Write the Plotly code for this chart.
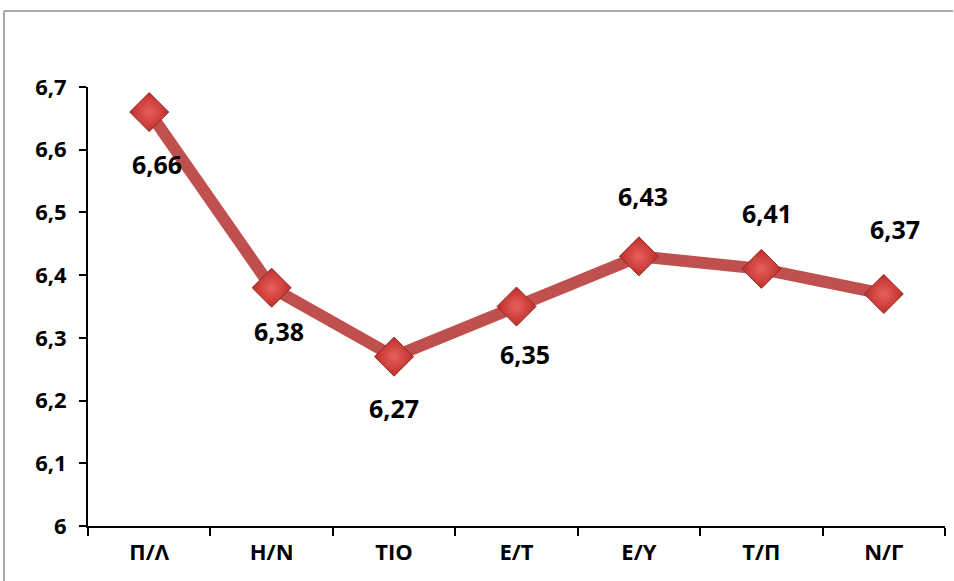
import plotly.graph_objects as go

categories = ["Π/Λ", "Η/Ν", "ΤΙΟ", "Ε/Τ", "Ε/Υ", "Τ/Π", "Ν/Γ"]
values = [6.66, 6.38, 6.27, 6.35, 6.43, 6.41, 6.37]
label_dx = [8, 7, 0, 8, 4, 6, 11]
label_dy = [-52, -43, -51, -47, 60, 56, 65]

W, H = 954, 581
ml, mr, mt, mb = 88, 9, 87, 55
pw, ph = W - ml - mr, H - mt - mb

fig = go.Figure()
fig.add_trace(go.Scatter(
    x=categories, y=values, mode="lines+markers",
    line=dict(color="#C0504D", width=12),
    marker=dict(symbol="diamond", size=30, color="#BE2E2A",
                gradient=dict(type="radial", color="#E8605A"),
                line=dict(color="#8E2A27", width=1)),
    hoverinfo="skip", showlegend=False,
))

for c, v, dx, dy in zip(categories, values, label_dx, label_dy):
    fig.add_annotation(x=c, y=v, text=f"{v:.2f}".replace(".", ","), showarrow=False,
                       xshift=dx, yshift=dy,
                       font=dict(family="Open Sans", size=25, color="black", weight="bold"))

# outer chart border: only top and left edges are visible in the source image
bx0 = (4 - ml) / pw
by1 = (H - mb - 11) / ph
fig.add_shape(type="line", xref="paper", yref="paper", x0=bx0, x1=(W - 1 - ml) / pw,
              y0=by1, y1=by1, line=dict(color="#8C8C8C", width=1.5), layer="below")
fig.add_shape(type="line", xref="paper", yref="paper", x0=bx0, x1=bx0,
              y0=-mb / ph, y1=by1, line=dict(color="#8C8C8C", width=1.5), layer="below")

fig.update_layout(
    width=W, height=H,
    margin=dict(l=ml, r=mr, t=mt, b=mb),
    plot_bgcolor="white", paper_bgcolor="white",
    separators=",.",
    font=dict(family="Open Sans", color="black"),
    xaxis=dict(showgrid=False, showline=True, linecolor="black", linewidth=2,
               ticks="outside", ticklen=8, tickwidth=2, tickcolor="black",
               tickson="boundaries", range=[-0.5, 6.5],
               tickfont=dict(size=22, weight="bold"), ticklabelstandoff=6),
    yaxis=dict(range=[6, 6.7], dtick=0.1, showgrid=False, zeroline=False,
               showline=True, linecolor="black", linewidth=2,
               ticks="outside", ticklen=7, tickwidth=2, tickcolor="black",
               tickfont=dict(size=22, weight="bold"), ticklabelstandoff=8),
)

fig.write_html("out.html", config={"displayModeBar": False},
               post_script="document.body.style.margin='0';"
                           "document.body.style.overflow='hidden';")
